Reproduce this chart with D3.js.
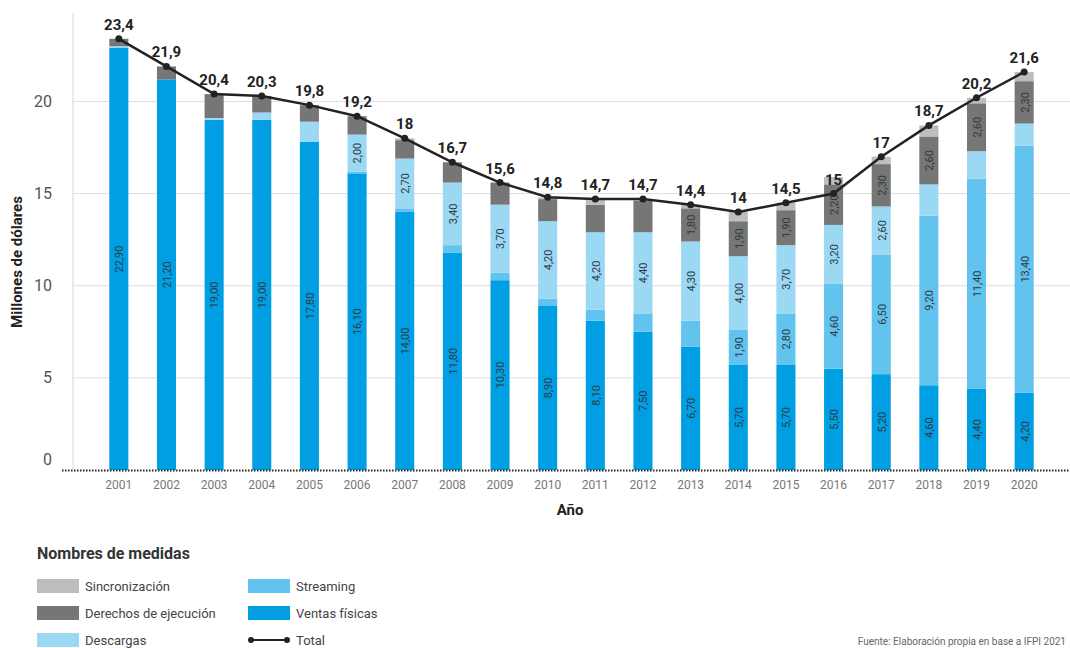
<!DOCTYPE html>
<html lang="es">
<head>
<meta charset="utf-8">
<script src="https://cdn.jsdelivr.net/npm/d3@7"></script>
<style>
  html, body { margin: 0; padding: 0; background: #fff; }
  svg { display: block; font-family: Roboto, "Noto Sans", sans-serif; }
</style>
</head>
<body>
<svg id="chart" width="1070" height="648"></svg>
<script>
// Ingresos de la industria musical por fuente (millones de dólares)
const years = ["2001","2002","2003","2004","2005","2006","2007","2008","2009","2010",
               "2011","2012","2013","2014","2015","2016","2017","2018","2019","2020"];
const ventasFisicas = [22.9, 21.2, 19.0, 19.0, 17.8, 16.1, 14.0, 11.8, 10.3, 8.9,
                       8.1, 7.5, 6.7, 5.7, 5.7, 5.5, 5.2, 4.6, 4.4, 4.2];
const streaming     = [0, 0, 0, 0, 0, 0.1, 0.2, 0.4, 0.4, 0.4,
                       0.6, 1.0, 1.4, 1.9, 2.8, 4.6, 6.5, 9.2, 11.4, 13.4];
const descargas     = [0.1, 0, 0.1, 0.4, 1.1, 2.0, 2.7, 3.4, 3.7, 4.2,
                       4.2, 4.4, 4.3, 4.0, 3.7, 3.2, 2.6, 1.7, 1.5, 1.2];
const derechos      = [0.4, 0.7, 1.3, 0.9, 0.9, 1.0, 1.0, 1.1, 1.2, 1.2,
                       1.5, 1.7, 1.8, 1.9, 1.9, 2.2, 2.3, 2.6, 2.6, 2.3];
const sincronizacion= [0, 0, 0, 0, 0, 0, 0.1, 0, 0, 0.1,
                       0.3, 0.1, 0.2, 0.5, 0.4, 0.4, 0.4, 0.6, 0.3, 0.5];
const totales       = [23.4, 21.9, 20.4, 20.3, 19.8, 19.2, 18, 16.7, 15.6, 14.8,
                       14.7, 14.7, 14.4, 14, 14.5, 15, 17, 18.7, 20.2, 21.6];
const yTicks = [0, 5, 10, 15, 20];

// Series apiladas, de abajo hacia arriba
const series = [
  { key: "ventas",    name: "Ventas físicas",        values: ventasFisicas,  color: "#009FE3" },
  { key: "streaming", name: "Streaming",             values: streaming,      color: "#62C3EE" },
  { key: "descargas", name: "Descargas",             values: descargas,      color: "#9BD8F4" },
  { key: "derechos",  name: "Derechos de ejecución", values: derechos,       color: "#767676" },
  { key: "sincro",    name: "Sincronización",        values: sincronizacion, color: "#BDBDBD" }
];

const rows = years.map((y, i) => {
  const r = { year: y };
  series.forEach(s => { r[s.key] = s.values[i]; });
  return r;
});

const svg = d3.select("#chart");
const x = d3.scaleBand().domain(years).range([95, 1048]).paddingInner(0.6).paddingOuter(0.3);
const y = d3.scaleLinear().domain([0, 24.8]).range([470, 13]);

const comma = v => String(v).replace(".", ",");
const comma2 = v => v.toFixed(2).replace(".", ",");

// Rejilla horizontal
svg.append("g")
  .selectAll("line")
  .data(yTicks.filter(t => t > 0))
  .join("line")
  .attr("x1", 73).attr("x2", 1070)
  .attr("y1", d => y(d)).attr("y2", d => y(d))
  .attr("stroke", "#dedede").attr("stroke-width", 1);

// Eje vertical
const yAxis = svg.append("g")
  .attr("transform", "translate(73,0)")
  .call(d3.axisLeft(y).tickValues(yTicks).tickSize(0).tickPadding(21));
yAxis.select(".domain").attr("stroke", "#d6d6d6").attr("d", `M0,${y(24.8)}V${y(0)}`);
yAxis.selectAll("text")
  .attr("font-size", 16).attr("fill", "#555").attr("font-family", "Roboto, sans-serif")
  .attr("dy", d => d === 0 ? "-0.35em" : "0.32em");

// Barras apiladas
const stack = d3.stack().keys(series.map(s => s.key));
const stacked = stack(rows);
const colorOf = d3.scaleOrdinal().domain(series.map(s => s.key)).range(series.map(s => s.color));

const layers = svg.append("g")
  .selectAll("g")
  .data(stacked)
  .join("g")
  .attr("fill", d => colorOf(d.key));

layers.selectAll("rect")
  .data(d => d.map(p => ({ p, key: d.key })))
  .join("rect")
  .attr("x", d => x(d.p.data.year))
  .attr("width", x.bandwidth())
  .attr("y", d => y(d.p[1]))
  .attr("height", d => Math.max(0, y(d.p[0]) - y(d.p[1])));

// Etiquetas de valor dentro de los segmentos
const segLabels = [];
stacked.forEach(layer => {
  layer.forEach(p => {
    const v = p.data[layer.key];
    if (v >= 1.75) segLabels.push({ year: p.data.year, v, mid: (p[0] + p[1]) / 2 });
  });
});
svg.append("g")
  .selectAll("text")
  .data(segLabels)
  .join("text")
  .attr("transform", d => `translate(${x(d.year) + x.bandwidth() / 2 + 0.5},${y(d.mid)}) rotate(-90)`)
  .attr("text-anchor", "middle")
  .attr("dy", "0.35em")
  .attr("font-size", 11)
  .attr("fill", "#2d3a44")
  .text(d => comma2(d.v));

// Línea base punteada
svg.append("line")
  .attr("x1", 62).attr("x2", 1070)
  .attr("y1", y(0) + 0.5).attr("y2", y(0) + 0.5)
  .attr("stroke", "#222").attr("stroke-width", 2)
  .attr("stroke-dasharray", "1.5,1.5");

// Eje horizontal (años)
const xAxis = svg.append("g")
  .attr("transform", `translate(0,${y(0)})`)
  .call(d3.axisBottom(x).tickSize(0).tickPadding(10));
xAxis.select(".domain").remove();
xAxis.selectAll("text").attr("font-size", 12).attr("fill", "#777").attr("font-family", "Roboto, sans-serif");

// Títulos de ejes
svg.append("text")
  .attr("x", 570).attr("y", 515)
  .attr("text-anchor", "middle")
  .attr("font-size", 15).attr("font-weight", "bold").attr("fill", "#222")
  .text("Año");

svg.append("text")
  .attr("transform", "translate(22,262) rotate(-90)")
  .attr("text-anchor", "middle")
  .attr("font-size", 15).attr("font-weight", "bold").attr("fill", "#222")
  .text("Millones de dólares");

// Línea del total
const line = d3.line()
  .x((d, i) => x(years[i]) + x.bandwidth() / 2)
  .y(d => y(d));

svg.append("path")
  .datum(totales)
  .attr("d", line)
  .attr("fill", "none")
  .attr("stroke", "#222")
  .attr("stroke-width", 2.5);

svg.append("g")
  .selectAll("circle")
  .data(totales)
  .join("circle")
  .attr("cx", (d, i) => x(years[i]) + x.bandwidth() / 2)
  .attr("cy", d => y(d))
  .attr("r", 3.5)
  .attr("fill", "#222");

svg.append("g")
  .selectAll("text")
  .data(totales)
  .join("text")
  .attr("x", (d, i) => x(years[i]) + x.bandwidth() / 2)
  .attr("y", d => y(d) - 9)
  .attr("text-anchor", "middle")
  .attr("font-size", 15)
  .attr("font-weight", "bold")
  .attr("fill", "#222")
  .text(d => comma(d));

// Leyenda
const legend = svg.append("g");
legend.append("text")
  .attr("x", 37).attr("y", 559)
  .attr("font-size", 16).attr("font-weight", "bold").attr("fill", "#333")
  .text("Nombres de medidas");

const legendItems = [
  { name: "Sincronización",        color: "#BDBDBD", col: 0, row: 0 },
  { name: "Derechos de ejecución", color: "#767676", col: 0, row: 1 },
  { name: "Descargas",             color: "#9BD8F4", col: 0, row: 2 },
  { name: "Streaming",             color: "#62C3EE", col: 1, row: 0 },
  { name: "Ventas físicas",        color: "#009FE3", col: 1, row: 1 },
  { name: "Total",                 color: null,      col: 1, row: 2 }
];
const colX = [37, 248];
const rowY = [586, 613, 640];

legendItems.forEach(it => {
  const gx = colX[it.col], gy = rowY[it.row];
  if (it.color) {
    legend.append("rect")
      .attr("x", gx).attr("y", gy - 7)
      .attr("width", 42).attr("height", 14)
      .attr("fill", it.color);
  } else {
    legend.append("line")
      .attr("x1", gx + 3).attr("x2", gx + 39)
      .attr("y1", gy).attr("y2", gy)
      .attr("stroke", "#222").attr("stroke-width", 2);
    [gx + 3, gx + 39].forEach(cx => legend.append("circle")
      .attr("cx", cx).attr("cy", gy).attr("r", 3).attr("fill", "#222"));
  }
  legend.append("text")
    .attr("x", gx + 48).attr("y", gy)
    .attr("dy", "0.35em")
    .attr("font-size", 13).attr("fill", "#444")
    .text(it.name);
});

// Fuente
svg.append("text")
  .attr("x", 1066).attr("y", 645)
  .attr("text-anchor", "end")
  .attr("font-size", 10).attr("fill", "#666")
  .text("Fuente: Elaboración propia en base a IFPI 2021");
</script>
</body>
</html>
